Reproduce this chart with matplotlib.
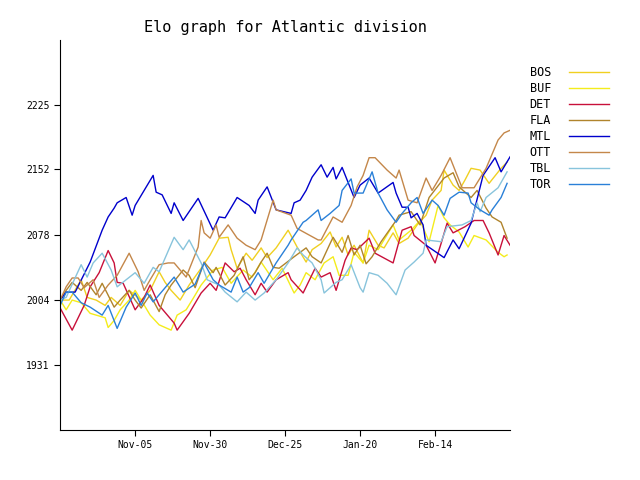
import matplotlib
matplotlib.use("Agg")
import matplotlib.pyplot as plt

plt.rcParams['font.family'] = 'DejaVu Sans Mono'

# days since start of season and Elo rating
bos_days = [0, 3, 7, 9, 12, 15, 17, 20, 23, 27, 30, 33, 35, 37, 40, 43, 47, 50, 53, 56, 57, 59, 62, 64, 67, 69, 72, 76, 79, 82, 84, 87, 90, 92, 94, 96, 98, 101, 103, 106, 108, 111, 113, 116, 119, 122, 124, 127, 128, 131, 133, 135, 137, 140, 143, 147, 149]
bos_elo = [2004, 2004, 2027, 2007, 2004, 1998, 2007, 1998, 2015, 2004, 2015, 2036, 2024, 2015, 2004, 2021, 2040, 2055, 2074, 2075, 2061, 2040, 2057, 2049, 2063, 2052, 2063, 2083, 2064, 2047, 2061, 2068, 2081, 2064, 2075, 2055, 2066, 2046, 2083, 2066, 2063, 2080, 2068, 2074, 2089, 2100, 2117, 2128, 2151, 2134, 2128, 2140, 2153, 2151, 2136, 2153, 2160]

buf_days = [0, 2, 4, 7, 10, 15, 16, 18, 20, 23, 25, 27, 30, 33, 37, 39, 42, 44, 47, 51, 54, 57, 61, 64, 67, 71, 74, 78, 80, 82, 85, 88, 91, 93, 96, 98, 101, 103, 106, 111, 113, 117, 120, 123, 126, 128, 130, 133, 136, 138, 142, 146, 148, 149]
buf_elo = [2004, 1993, 2004, 2001, 1989, 1984, 1973, 1981, 1993, 2004, 2015, 2004, 1987, 1976, 1970, 1987, 1993, 2004, 2021, 2038, 2041, 2023, 2038, 2030, 2047, 2027, 2040, 2012, 2021, 2035, 2027, 2046, 2053, 2032, 2032, 2058, 2046, 2066, 2061, 2089, 2072, 2083, 2094, 2070, 2111, 2097, 2089, 2081, 2064, 2077, 2072, 2058, 2053, 2055]

det_days = [0, 4, 8, 10, 13, 16, 18, 19, 21, 25, 28, 30, 33, 38, 39, 43, 47, 50, 52, 55, 58, 60, 62, 65, 67, 69, 72, 76, 77, 81, 85, 87, 90, 92, 95, 97, 99, 103, 105, 111, 114, 117, 118, 122, 125, 127, 129, 131, 135, 138, 141, 143, 146, 148, 150]
det_elo = [1995, 1970, 1998, 2019, 2035, 2060, 2046, 2024, 2023, 1993, 2007, 2021, 1998, 1978, 1970, 1989, 2012, 2023, 2015, 2046, 2036, 2040, 2027, 2010, 2023, 2013, 2027, 2035, 2027, 2012, 2040, 2030, 2035, 2015, 2049, 2063, 2061, 2074, 2057, 2046, 2083, 2087, 2077, 2066, 2046, 2068, 2091, 2080, 2087, 2094, 2094, 2080, 2055, 2077, 2066]

fla_days = [0, 2, 4, 7, 9, 12, 14, 18, 20, 23, 25, 27, 30, 33, 35, 37, 41, 43, 45, 48, 51, 52, 55, 58, 61, 63, 65, 67, 69, 71, 73, 78, 82, 84, 87, 90, 91, 94, 96, 98, 100, 102, 104, 107, 112, 113, 117, 120, 123, 128, 131, 133, 137, 139, 142, 144, 147, 149]
fla_elo = [2004, 2015, 2024, 2015, 2024, 2010, 2023, 1996, 2004, 2015, 2004, 1995, 2010, 1991, 2010, 2021, 2038, 2032, 2018, 2047, 2035, 2041, 2021, 2032, 2053, 2027, 2035, 2047, 2057, 2041, 2040, 2053, 2063, 2053, 2046, 2068, 2075, 2058, 2077, 2055, 2066, 2045, 2053, 2070, 2094, 2100, 2104, 2089, 2120, 2142, 2148, 2132, 2120, 2128, 2108, 2098, 2092, 2074]

mtl_days = [0, 2, 5, 10, 14, 16, 18, 19, 22, 24, 25, 31, 32, 34, 37, 38, 41, 46, 51, 53, 55, 59, 63, 65, 66, 69, 72, 77, 78, 80, 82, 84, 87, 89, 91, 92, 94, 98, 100, 103, 106, 111, 112, 114, 116, 117, 119, 121, 122, 128, 131, 133, 137, 141, 145, 147, 150]
mtl_elo = [2004, 2013, 2013, 2047, 2083, 2098, 2108, 2114, 2120, 2100, 2111, 2145, 2126, 2123, 2102, 2114, 2094, 2119, 2083, 2098, 2097, 2120, 2111, 2102, 2117, 2132, 2106, 2102, 2114, 2117, 2128, 2143, 2157, 2143, 2154, 2141, 2154, 2120, 2134, 2142, 2125, 2137, 2125, 2109, 2109, 2097, 2102, 2089, 2066, 2052, 2072, 2062, 2091, 2145, 2165, 2149, 2166]

ott_days = [0, 2, 4, 6, 8, 11, 13, 16, 19, 23, 26, 28, 30, 33, 36, 38, 42, 46, 47, 48, 50, 52, 53, 56, 59, 62, 65, 67, 71, 72, 77, 79, 86, 87, 91, 94, 97, 99, 101, 103, 105, 109, 112, 113, 116, 119, 122, 124, 127, 130, 134, 138, 142, 146, 148, 150]
ott_elo = [2004, 2019, 2029, 2029, 2018, 2027, 2007, 2021, 2032, 2057, 2036, 2015, 2027, 2044, 2046, 2046, 2030, 2064, 2094, 2080, 2074, 2089, 2075, 2089, 2074, 2066, 2061, 2072, 2117, 2106, 2100, 2085, 2072, 2072, 2098, 2092, 2111, 2132, 2145, 2165, 2165, 2151, 2142, 2151, 2117, 2114, 2142, 2128, 2145, 2165, 2131, 2131, 2153, 2185, 2193, 2196]

tbl_days = [0, 2, 7, 9, 11, 14, 17, 19, 22, 25, 28, 31, 33, 38, 41, 43, 47, 49, 53, 55, 59, 62, 65, 68, 72, 76, 79, 81, 84, 87, 88, 92, 94, 97, 100, 101, 103, 106, 109, 112, 115, 118, 121, 122, 127, 129, 134, 137, 139, 140, 142, 146, 149]
tbl_elo = [2004, 2007, 2044, 2030, 2046, 2057, 2038, 2019, 2027, 2035, 2023, 2041, 2036, 2075, 2061, 2072, 2046, 2027, 2021, 2013, 2002, 2013, 2004, 2012, 2027, 2046, 2063, 2055, 2046, 2027, 2012, 2024, 2027, 2044, 2018, 2013, 2035, 2032, 2023, 2010, 2038, 2047, 2057, 2072, 2070, 2087, 2089, 2094, 2114, 2104, 2120, 2131, 2149]

tor_days = [0, 2, 4, 7, 10, 14, 16, 19, 22, 25, 27, 29, 31, 33, 38, 41, 45, 48, 51, 53, 57, 59, 61, 63, 66, 68, 72, 76, 77, 81, 82, 86, 87, 90, 93, 94, 97, 98, 101, 104, 106, 109, 112, 114, 117, 119, 121, 124, 126, 128, 130, 133, 136, 137, 140, 143, 144, 147, 149]
tor_elo = [1998, 2013, 2013, 2001, 1996, 1987, 1998, 1972, 1996, 2012, 1998, 2012, 2002, 2010, 2030, 2013, 2022, 2046, 2027, 2021, 2013, 2030, 2013, 2018, 2035, 2023, 2046, 2066, 2072, 2092, 2094, 2106, 2094, 2102, 2111, 2128, 2141, 2125, 2125, 2149, 2125, 2106, 2092, 2102, 2114, 2120, 2102, 2117, 2111, 2100, 2119, 2126, 2125, 2114, 2106, 2100, 2106, 2120, 2136]

teams = ['BOS', 'BUF', 'DET', 'FLA', 'MTL', 'OTT', 'TBL', 'TOR']
days = [bos_days, buf_days, det_days, fla_days, mtl_days, ott_days, tbl_days, tor_days]
elos = [bos_elo, buf_elo, det_elo, fla_elo, mtl_elo, ott_elo, tbl_elo, tor_elo]
colors = ['#f0d020', '#f4ec1c', '#c8103a', '#b0842c', '#0000cc', '#c4874a', '#88c4dc', '#2a80d8']

tick_days = [25, 50, 75, 100, 125]
tick_labels = ['Nov-05', 'Nov-30', 'Dec-25', 'Jan-20', 'Feb-14']
y_ticks = [1931, 2004, 2078, 2152, 2225]

fig = plt.figure(figsize=(6.4, 4.8), dpi=100)
ax = fig.add_axes([0.094, 0.104, 0.703, 0.8125])

for team, d, e, c in zip(teams, days, elos, colors):
    ax.plot(d, e, color=c, linewidth=1.0, label=team)

ax.set_xlim(0, 150)
ax.set_ylim(1857, 2298)
ax.set_xticks(tick_days)
ax.set_xticklabels(tick_labels)
ax.set_yticks(y_ticks)
ax.tick_params(labelsize=7, length=4)
ax.spines['top'].set_visible(False)
ax.spines['right'].set_visible(False)
ax.set_title('Elo graph for Atlantic division', fontsize=11)

ax.legend(loc='upper left', bbox_to_anchor=(1.02, 0.96), frameon=False,
          markerfirst=False, fontsize=8.5, handlelength=3.4, handletextpad=1.5,
          labelspacing=0.25)

fig.savefig('out.png', dpi=100)
